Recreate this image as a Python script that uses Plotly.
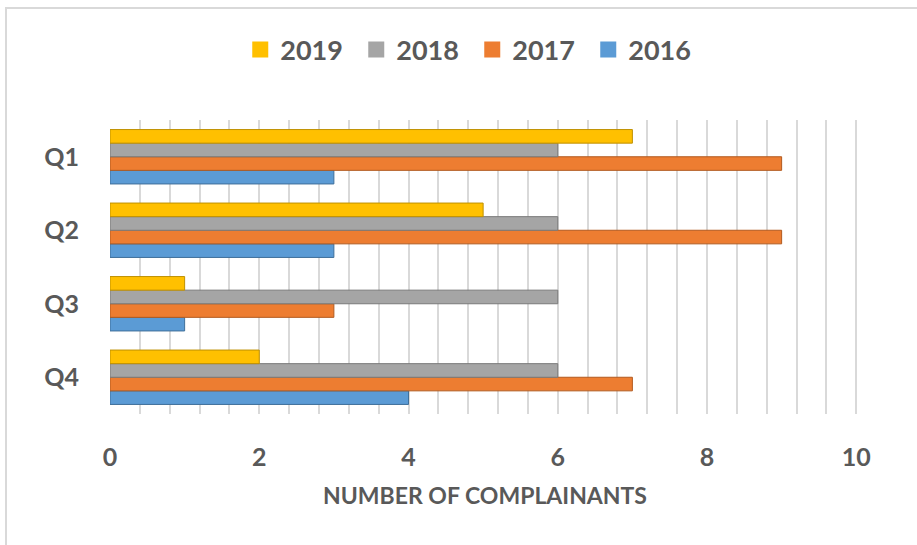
import plotly.graph_objects as go

quarters = ["Q1", "Q2", "Q3", "Q4"]
years = ["2016", "2017", "2018", "2019"]
values = {
    "2016": [3, 3, 1, 4],
    "2017": [9, 9, 3, 7],
    "2018": [6, 6, 6, 6],
    "2019": [7, 5, 1, 2],
}
colors = {"2016": "#5B9BD5", "2017": "#ED7D31", "2018": "#A5A5A5", "2019": "#FFC000"}
edges = {"2016": "#3f6f9a", "2017": "#b25a1f", "2018": "#7a7a7a", "2019": "#bf9000"}
x_ticks = [0, 2, 4, 6, 8, 10]

TXT = "#595959"
FONT = "Lato"

fig = go.Figure()
for yr in years:
    fig.add_trace(go.Bar(
        y=quarters, x=values[yr], name=yr, orientation="h",
        marker=dict(color=colors[yr], line=dict(color=edges[yr], width=1)),
        showlegend=False,
    ))
for yr in years:
    fig.add_trace(go.Scatter(
        x=[None], y=[None], mode="markers", name=yr,
        marker=dict(symbol="square", size=18, color=colors[yr]),
        showlegend=True,
    ))

L, R, T, B = 110, 57, 120, 131
W, H = 917, 545
pw = W - L - R
ph = H - T - B

fig.update_layout(
    width=W, height=H,
    margin=dict(l=L, r=R, t=T, b=B, autoexpand=False),
    paper_bgcolor="white", plot_bgcolor="white",
    barmode="group", bargap=0.26, bargroupgap=0,
    font=dict(family=FONT, color=TXT),
    legend=dict(
        orientation="h", xref="container", yref="container",
        x=0.515, xanchor="center", y=1 - 50 / H, yanchor="middle",
        traceorder="reversed", itemsizing="trace",
        font=dict(size=27, family=FONT, color=TXT, weight="bold"),
        entrywidth=71, entrywidthmode="pixels",
    ),
    xaxis=dict(
        range=[0, 10.05], tickvals=x_ticks, ticktext=[str(v) for v in x_ticks],
        showgrid=True, gridcolor="#d9d9d9", gridwidth=1.5,
        minor=dict(dtick=0.4, tick0=0, showgrid=True, gridcolor="#d9d9d9", gridwidth=1.5),
        zeroline=False, showline=False, ticks="", automargin=False,
        tickfont=dict(size=25, family=FONT, color=TXT, weight="bold"),
        ticklabelstandoff=26,
        title=dict(text="NUMBER OF COMPLAINANTS", standoff=17,
                   font=dict(size=23, family=FONT, color=TXT, weight="bold")),
    ),
    yaxis=dict(
        categoryorder="array", categoryarray=quarters[::-1],
        showgrid=False, zeroline=False, showline=False, ticks="", automargin=False,
        tickfont=dict(size=25, family=FONT, color=TXT, weight="bold"),
        ticklabelstandoff=30,
    ),
    shapes=[dict(
        type="rect", xref="paper", yref="paper",
        x0=(6 - L) / pw, x1=(W + 5 - L) / pw,
        y0=(H - B - H - 5) / ph, y1=1 + (T - 8) / ph,
        line=dict(color="#d9d9d9", width=2), fillcolor="rgba(0,0,0,0)",
        layer="below",
    )],
)

fig.write_html("out.html", config={"displayModeBar": False},
               post_script="document.body.style.margin='0';")
